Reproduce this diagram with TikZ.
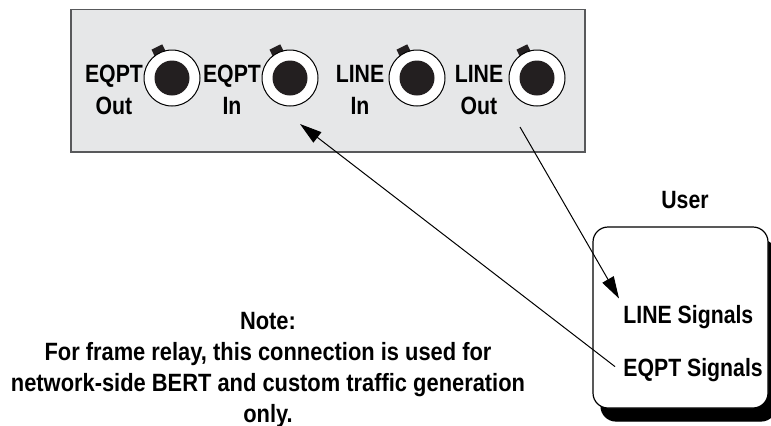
\documentclass[tikz,border=0pt]{standalone}
\usepackage{fontspec}
\setmainfont{Liberation Sans}[FakeStretch=0.85]
\newfontfamily\notefont{Liberation Sans}[FakeStretch=0.875]
\usetikzlibrary{arrows.meta,calc,shadows}

\definecolor{panelgray}{RGB}{230,231,232}
\definecolor{panelline}{RGB}{88,89,91}
\definecolor{holeblack}{RGB}{35,31,32}

\begin{document}
\begin{tikzpicture}[x=0.5pt,y=-0.5pt]
  \tikzset{
    every node/.style={
      font=\fontsize{12.5}{16}\selectfont\bfseries,
      inner sep=0pt,
      align=center
    },
    panel/.style={
      draw=panelline,
      line width=0.75pt,
      fill=panelgray
    },
    jack/.style={
      circle,
      draw,
      line width=0.5pt,
      fill=white,
      minimum size=28pt
    },
    knob/.style={
      rectangle,
      fill=holeblack,
      minimum width=6pt,
      minimum height=3.5pt
    },
    userbox/.style={
      draw,
      line width=0.6pt,
      fill=white,
      rounded corners=7.5pt,
      minimum width=87.5pt,
      minimum height=90.5pt,
      copy shadow={shadow xshift=4pt, shadow yshift=-6.5pt, fill=black, draw=black}
    },
    line/.style={
      draw,
      line width=0.5pt,
      -{Triangle[length=11pt,width=6.5pt]}
    }
  }

  \useasboundingbox (0,0) rectangle (771,425);

  \draw[panel] (71,9.5) rectangle (585,152);

  \foreach \jn/\jx in {eqptout/172,eqptin/290,linein/417,lineout/537}{
    \node[knob, rotate=26] (\jn knob) at ($(\jx,78)+(116:15.5pt)$) {};
    \node[jack] (\jn) at (\jx,78) {};
    \fill[holeblack] (\jn.center) circle (8.75pt);
  }

  \node[anchor=north] (eqptoutlbl) at (114,65) {EQPT\\Out};
  \node[anchor=north] (eqptinlbl) at (232,65) {EQPT\\In};
  \node[anchor=north] (lineinlbl) at (360,65) {LINE\\In};
  \node[anchor=north] (lineoutlbl) at (479,65) {LINE\\Out};

  \node[userbox] (user) at (680.5,317.5) {};
  \node[anchor=base] (userlbl) at (685,208) {User};
  \node[anchor=base west] (linesig) at (623,323) {LINE Signals};
  \node[anchor=base west] (eqptsig) at (623,376) {EQPT Signals};

  \node[anchor=north, font=\notefont\fontsize{12.5}{15.5}\selectfont\bfseries] (note) at (268,312)
    {Note:\\For frame relay, this connection is used for\\network-side BERT and custom traffic generation\\only.};

  \coordinate (lineoutpt) at (520,127);
  \coordinate (eqptinpt) at (300,124);

  \path[line] (lineoutpt) -- ([xshift=-2pt,yshift=3pt]linesig.north west);
  \path[line] ([xshift=-4pt,yshift=1.5pt]eqptsig.west) -- (eqptinpt);

\end{tikzpicture}
\end{document}
